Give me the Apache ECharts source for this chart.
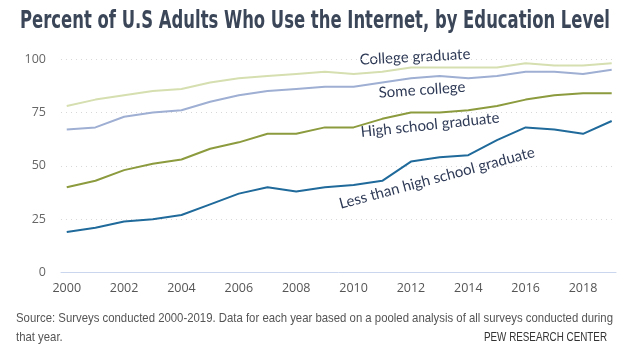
<!DOCTYPE html>
<html>
<head>
<meta charset="utf-8">
<script src="https://cdn.jsdelivr.net/npm/echarts@6/dist/echarts.min.js"></script>
<style>html,body{margin:0;padding:0;background:#fff;}#c{width:627px;height:352px;}</style>
</head>
<body>
<div id="c"></div>
<script>
var years = [2000,2001,2002,2003,2004,2005,2006,2007,2008,2009,2010,2011,2012,2013,2014,2015,2016,2017,2018,2019];
var collegeGrad = [78,81,83,85,86,89,91,92,93,94,93,94,96,96,96,96,98,97,97,98];
var someCollege = [67,68,73,75,76,80,83,85,86,87,87,89,91,92,91,92,94,94,93,95];
var highSchool = [40,43,48,51,53,58,61,65,65,68,68,72,75,75,76,78,81,83,84,84];
var lessThanHS = [19,21,24,25,27,32,37,40,38,40,41,43,52,54,55,62,68,67,65,71];
var xTickLabels = [2000,2002,2004,2006,2008,2010,2012,2014,2016,2018];
var seriesNames = ['College graduate','Some college','High school graduate','Less than high school graduate'];
var titleText = 'Percent of U.S Adults Who Use the Internet, by Education Level';
var sourceLine1 = 'Source: Surveys conducted 2000-2019. Data for each year based on a pooled analysis of all surveys conducted during';
var sourceLine2 = 'that year.';
var creditText = 'PEW RESEARCH CENTER';

function pairs(v){ return years.map(function(y,i){ return [y, v[i]]; }); }
var mctx = document.createElement('canvas').getContext('2d');
function fitScale(text, font, w){ mctx.font = font; return w / mctx.measureText(text).width; }

var titleFont = 'bold 24px "DejaVu Sans Condensed", "DejaVu Sans", sans-serif';
var srcFont = '13px "Liberation Sans", Arial, sans-serif';
var creditFont = '13px "Liberation Sans", Arial, sans-serif';
var titleScale = fitScale(titleText, titleFont, 590);
var srcScale = fitScale(sourceLine1, srcFont, 597);
var creditScale = fitScale(creditText, creditFont, 123);

var chart = echarts.init(document.getElementById('c'), null, {renderer:'canvas'});
var labelFont = 'Lato, "Open Sans", sans-serif';
var labelColor = '#2e3a56';
chart.setOption({
  animation: false,
  backgroundColor: '#fff',
  grid: {left: 61, right: 11, top: 59, bottom: 79.3, containLabel: false},
  xAxis: {
    type: 'value', min: 1999.8, max: 2019.15,
    axisLine: {show: true, lineStyle: {color: '#c9d6ee', width: 1}},
    axisTick: {show: false},
    splitLine: {show: false},
    axisLabel: {customValues: xTickLabels, color: '#555', fontSize: 12.5, fontFamily: '"Open Sans", sans-serif', margin: 9,
      formatter: function(v){ return String(v); }}
  },
  yAxis: {
    type: 'value', min: 0, max: 100, interval: 25,
    axisLine: {show: false}, axisTick: {show: false},
    splitLine: {show: true, lineStyle: {color: '#d8d8d8', type: [1,4], width: 1}},
    axisLabel: {color: '#666', fontSize: 12.5, fontFamily: '"Open Sans", sans-serif', margin: 15}
  },
  series: [
    {name: seriesNames[0], type: 'line', data: pairs(collegeGrad), symbol: 'none', lineStyle: {color: '#d5dfb0', width: 2}},
    {name: seriesNames[1], type: 'line', data: pairs(someCollege), symbol: 'none', lineStyle: {color: '#9eafd3', width: 2}},
    {name: seriesNames[2], type: 'line', data: pairs(highSchool), symbol: 'none', lineStyle: {color: '#8c9b3e', width: 2}},
    {name: seriesNames[3], type: 'line', data: pairs(lessThanHS), symbol: 'none', lineStyle: {color: '#1f6a9a', width: 2}}
  ],
  graphic: [
    {type:'text', x:20, y:22, scaleX: titleScale, style:{text: titleText, font: titleFont, fill:'#3b4759', verticalAlign:'middle'}},
    {type:'text', x:415, y:57, rotation: 3*Math.PI/180, style:{text: seriesNames[0], font: '15px ' + labelFont, fill: labelColor, align:'center', verticalAlign:'middle'}},
    {type:'text', x:422, y:90, rotation: 4*Math.PI/180, style:{text: seriesNames[1], font: '15px ' + labelFont, fill: labelColor, align:'center', verticalAlign:'middle'}},
    {type:'text', x:430, y:125, rotation: 6*Math.PI/180, style:{text: seriesNames[2], font: '15px ' + labelFont, fill: labelColor, align:'center', verticalAlign:'middle'}},
    {type:'text', x:437, y:178, rotation: 15*Math.PI/180, style:{text: seriesNames[3], font: '15px ' + labelFont, fill: labelColor, align:'center', verticalAlign:'middle'}},
    {type:'text', x:16, y:318, scaleX: srcScale, style:{text: sourceLine1, font: srcFont, fill:'#555', verticalAlign:'middle'}},
    {type:'text', x:16, y:337, scaleX: srcScale, style:{text: sourceLine2, font: srcFont, fill:'#555', verticalAlign:'middle'}},
    {type:'text', x:484, y:337, scaleX: creditScale, style:{text: creditText, font: creditFont, fill:'#333', verticalAlign:'middle'}}
  ]
});
</script>
</body>
</html>
